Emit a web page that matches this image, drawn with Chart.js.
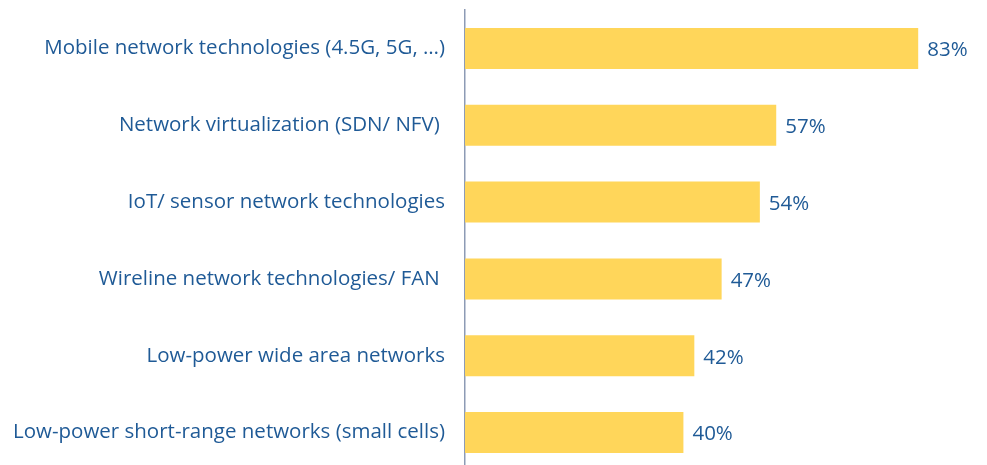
<!DOCTYPE html>
<html>
<head>
<meta charset="utf-8">
<script src="https://cdn.jsdelivr.net/npm/chart.js@4"></script>
<style>
  html, body { margin: 0; padding: 0; background: #fff; overflow: hidden; }
  #wrap { width: 987px; height: 472px; position: relative; }
</style>
</head>
<body>
<div id="wrap"><canvas id="chart"></canvas></div>
<script>
// カテゴリと値（元の図のラベル末尾の空白もそのまま）
const categories = [
  "Mobile network technologies (4.5G, 5G, …)",
  "Network virtualization (SDN/ NFV) ",
  "IoT/ sensor network technologies",
  "Wireline network technologies/ FAN ",
  "Low-power wide area networks",
  "Low-power short-range networks (small cells)",
];
const shares = [83, 57, 54, 47, 42, 40];

const textColor = "#1F5A96";
const barColor = "#FFD65A";
const fontFamily = "'Open Sans', 'Noto Sans', sans-serif";
const fontSize = 20.5;

// バーの右に値ラベルを描く
const valueLabels = {
  id: "valueLabels",
  afterDatasetsDraw(chart) {
    const ctx = chart.ctx;
    const meta = chart.getDatasetMeta(0);
    ctx.save();
    ctx.fillStyle = textColor;
    ctx.font = `${fontSize}px ${fontFamily}`;
    ctx.textAlign = "left";
    ctx.textBaseline = "middle";
    meta.data.forEach((bar, i) => {
      ctx.fillText(`${shares[i]}%`, bar.x + 9, bar.y + 2);
    });
    ctx.restore();
  },
};

new Chart(document.getElementById("chart"), {
  type: "bar",
  data: {
    labels: categories,
    datasets: [
      {
        data: shares,
        backgroundColor: barColor,
        borderWidth: 0,
        barPercentage: 1,
        categoryPercentage: 0.534,
      },
    ],
  },
  options: {
    indexAxis: "y",
    responsive: true,
    maintainAspectRatio: false,
    animation: false,
    layout: { padding: { top: 10, bottom: 1, left: 0, right: 0 } },
    plugins: {
      legend: { display: false },
      tooltip: { enabled: false },
    },
    scales: {
      x: {
        display: false,
        min: 0,
        max: 95.6,
      },
      y: {
        grid: { display: false, drawTicks: false },
        border: { display: true, color: "#8D9BB5", width: 1.5 },
        ticks: {
          color: textColor,
          padding: 20,
          font: { size: fontSize, family: fontFamily },
        },
        afterFit(scale) {
          scale.width = 465;
          scale.paddingTop = 0;
          scale.paddingBottom = 0;
        },
      },
    },
  },
  plugins: [valueLabels],
});
</script>
</body>
</html>
